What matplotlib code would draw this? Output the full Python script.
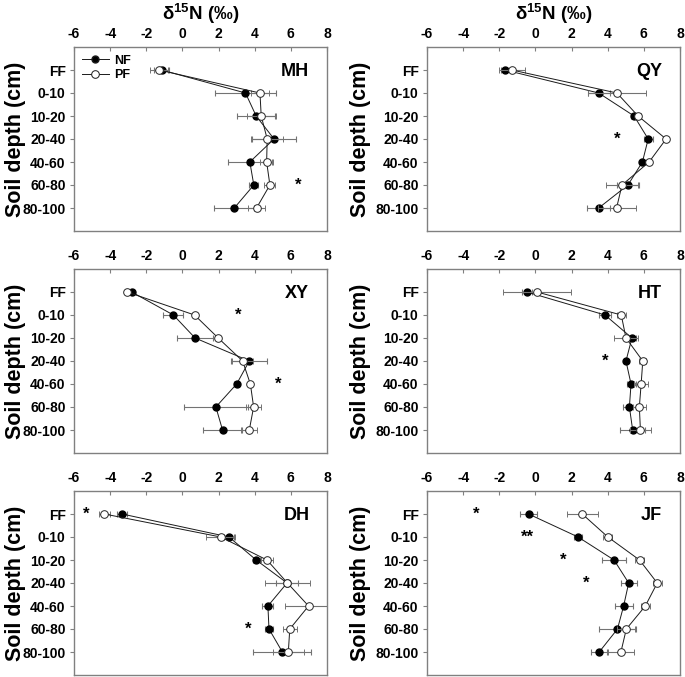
import numpy as np
import matplotlib
matplotlib.use("Agg")
from matplotlib import pyplot as plt
from matplotlib.lines import Line2D

plt.rcParams["font.family"] = ["Liberation Sans", "DejaVu Sans"]
plt.rcParams["font.weight"] = "bold"
plt.rcParams["axes.unicode_minus"] = False
plt.rcParams["mathtext.fontset"] = "custom"
plt.rcParams["mathtext.rm"] = "Liberation Sans"
plt.rcParams["mathtext.bf"] = "Liberation Sans:bold"

depths = ["FF", "0-10", "10-20", "20-40", "40-60", "60-80", "80-100"]

# site: NF mean, NF sd, PF mean, PF sd
mh_nf = [-1.15, 3.49, 4.08, 5.07, 3.73, 3.95, 2.87]
mh_nf_err = [0.4, 1.7, 1.06, 1.24, 1.21, 0.25, 1.1]
mh_pf = [-1.3, 4.29, 4.36, 4.69, 4.66, 4.84, 4.10]
mh_pf_err = [0.5, 0.5, 0.8, 0.87, 0.35, 0.3, 0.45]

qy_nf = [-1.68, 3.50, 5.46, 6.24, 5.92, 5.12, 3.50]
qy_nf_err = [0.25, 0.6, 0.15, 0.25, 0.1, 0.6, 0.65]
qy_pf = [-1.30, 4.51, 5.68, 7.23, 6.29, 4.79, 4.49]
qy_pf_err = [0.7, 1.6, 0.15, 0.1, 0.1, 0.9, 1.05]

xy_nf = [-2.81, -0.50, 0.70, 3.70, 3.00, 1.85, 2.22]
xy_nf_err = [0.1, 0.55, 1.0, 1.0, 0.15, 1.76, 1.07]
xy_pf = [-3.06, 0.67, 1.98, 3.33, 3.76, 3.94, 3.70]
xy_pf_err = [0.1, 0.1, 0.1, 0.6, 0.1, 0.4, 0.45]

ht_nf = [-0.47, 3.85, 5.34, 5.01, 5.29, 5.20, 5.38]
ht_nf_err = [0.3, 0.35, 0.2, 0.0, 0.25, 0.35, 0.7]
ht_pf = [0.09, 4.75, 5.01, 5.94, 5.85, 5.75, 5.81]
ht_pf_err = [1.9, 0.25, 0.65, 0.2, 0.4, 0.35, 0.6]

dh_nf = [-3.34, 2.58, 4.08, 5.79, 4.73, 4.79, 5.53]
dh_nf_err = [0.3, 0.3, 0.2, 0.6, 0.3, 0.2, 1.6]
dh_pf = [-4.32, 2.12, 4.68, 5.81, 6.98, 5.94, 5.86]
dh_pf_err = [0.3, 0.8, 0.35, 1.25, 1.3, 0.4, 0.85]

jf_nf = [-0.38, 2.36, 4.35, 5.16, 4.88, 4.54, 3.53]
jf_nf_err = [0.45, 0.2, 0.65, 0.45, 0.5, 1.0, 0.45]
jf_pf = [2.59, 4.01, 5.76, 6.74, 6.08, 5.03, 4.73]
jf_pf_err = [0.85, 0.25, 0.25, 0.25, 0.25, 0.5, 0.7]

# significance marks: (x, depth index, text)
mh_sig = [(6.4, 5, "*")]
qy_sig = [(4.5, 3, "*")]
xy_sig = [(3.1, 1, "*"), (5.3, 4, "*")]
ht_sig = [(3.85, 3, "*")]
dh_sig = [(-5.3, 0, "*"), (3.65, 5, "*")]
jf_sig = [(-3.3, 0, "*"), (-0.45, 1, "**"), (1.55, 2, "*"), (2.8, 3, "*")]

sites = [
    ("MH", mh_nf, mh_nf_err, mh_pf, mh_pf_err, mh_sig),
    ("QY", qy_nf, qy_nf_err, qy_pf, qy_pf_err, qy_sig),
    ("XY", xy_nf, xy_nf_err, xy_pf, xy_pf_err, xy_sig),
    ("HT", ht_nf, ht_nf_err, ht_pf, ht_pf_err, ht_sig),
    ("DH", dh_nf, dh_nf_err, dh_pf, dh_pf_err, dh_sig),
    ("JF", jf_nf, jf_nf_err, jf_pf, jf_pf_err, jf_sig),
]

W, H = 685, 677
fig = plt.figure(figsize=(W / 100, H / 100), dpi=100)

col_x = [74, 427]
col_w = 253
row_top = [47, 269, 491]
row_h = 184

y = np.arange(len(depths))
for k, (name, nf, nfe, pf, pfe, sig) in enumerate(sites):
    r, c = divmod(k, 2)
    ax = fig.add_axes([col_x[c] / W, 1 - (row_top[r] + row_h) / H, col_w / W, row_h / H])
    ax.errorbar(nf, y, xerr=nfe, fmt="-o", color="0.1", lw=0.7, ecolor="0.45",
                elinewidth=0.8, capsize=2.2, capthick=0.8, ms=5, mfc="black", mec="black",
                label="NF", zorder=3)
    ax.errorbar(pf, y, xerr=pfe, fmt="-o", color="0.1", lw=0.7, ecolor="0.45",
                elinewidth=0.8, capsize=2.2, capthick=0.8, ms=5.5, mfc="white", mec="0.15",
                mew=0.7, label="PF", zorder=4)
    for sx, si, st in sig:
        ax.text(sx, si, st, ha="center", va="center", fontsize=12, fontweight="bold")
    ax.text(0.93, 0.865, name, transform=ax.transAxes, ha="right", va="center",
            fontsize=13, fontweight="bold")

    ax.set_xlim(-6, 8)
    ax.set_ylim(7, -1)
    ax.set_xticks(np.arange(-6, 9, 2))
    ax.set_yticks(y)
    ax.set_yticklabels(depths)
    ax.xaxis.tick_top()
    ax.tick_params(axis="x", direction="in", length=3, pad=4, labelsize=10, color="0.5")
    ax.tick_params(axis="y", direction="out", length=3, pad=3, labelsize=10, color="0.5")
    for lab in ax.get_xticklabels() + ax.get_yticklabels():
        lab.set_fontweight("bold")
    for sp in ax.spines.values():
        sp.set_color("0.5")
        sp.set_linewidth(1.0)
    ax.set_ylabel("Soil depth (cm)", fontsize=15.5, fontweight="bold")
    ax.yaxis.set_label_coords(-0.19 if c == 0 else -0.22, 0.5)

    if r == 0:
        fig.text((col_x[c] + col_w / 2) / W, 1 - 14 / H,
                 r"$\mathregular{\delta}^{\mathbf{15}}$N (‰)",
                 ha="center", va="center", fontsize=13.5, fontweight="bold")
    if k == 0:
        handles = [Line2D([], [], color="0.1", lw=0.7, marker="o", ms=5, mfc="black"),
                   Line2D([], [], color="0.1", lw=0.7, marker="o", ms=5.5, mfc="white", mew=0.7)]
        ax.legend(handles, ["NF", "PF"], loc="upper left", frameon=False,
                  handlelength=2.2, labelspacing=0.2, borderaxespad=0.2,
                  handletextpad=0.4, prop={"weight": "bold", "size": 9})

fig.savefig("out.png", dpi=100)
